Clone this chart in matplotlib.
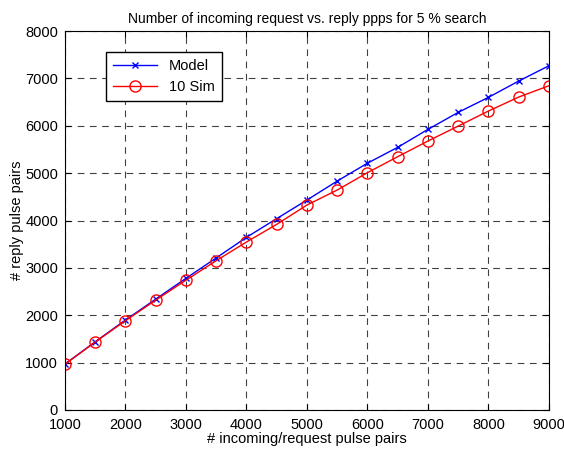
import numpy as np
import matplotlib
matplotlib.use("Agg")
import matplotlib.pyplot as plt

plt.rcParams['font.family'] = ['Liberation Sans', 'DejaVu Sans']

# incoming request pulse pairs
n_in = [1000, 1500, 2000, 2500, 3000, 3500, 4000, 4500, 5000,
        5500, 6000, 6500, 7000, 7500, 8000, 8500, 9000]
# analytic model
model = [970, 1440, 1900, 2340, 2780, 3210, 3645, 4040, 4432,
         4833, 5210, 5545, 5924, 6283, 6600, 6944, 7267]
# simulation, 10 runs
sim10 = [965, 1435, 1885, 2320, 2740, 3152, 3546, 3919, 4327,
         4643, 5010, 5347, 5678, 5994, 6311, 6606, 6845]

fig = plt.figure(figsize=(5.64, 4.5), dpi=100)
ax = fig.add_axes([0.1152, 0.0889, 0.8582, 0.8422])

ax.plot(n_in, model, 'b-x', lw=1, ms=5, mew=1, label='Model')
ax.plot(n_in, sim10, 'r-o', lw=1, ms=8, mfc='none', mew=1, label='10 Sim')

ax.set_xlim(1000, 9000)
ax.set_ylim(0, 8000)
ax.set_xticks(np.arange(1000, 9001, 1000))
ax.set_yticks(np.arange(0, 8001, 1000))
ax.grid(True, color='black', ls=(0, (6, 5)), lw=0.8, alpha=0.75)
ax.tick_params(direction='in', labelsize=10.5, length=4, top=True, right=True)
ax.tick_params(axis='x', pad=6)
ax.tick_params(axis='y', pad=5)

ax.set_title('Number of incoming request vs. reply ppps for 5 % search', fontsize=10)
ax.set_xlabel('# incoming/request pulse pairs', fontsize=10.5, labelpad=0)
ax.set_ylabel('# reply pulse pairs', fontsize=10.5, labelpad=1)

leg = ax.legend(loc='upper left', bbox_to_anchor=(0.07, 0.965), fontsize=10.5,
                fancybox=False, edgecolor='black', framealpha=1,
                handlelength=3, borderpad=0.5, labelspacing=0.5)
leg.get_frame().set_linewidth(1)

fig.savefig('out.png', dpi=100)
